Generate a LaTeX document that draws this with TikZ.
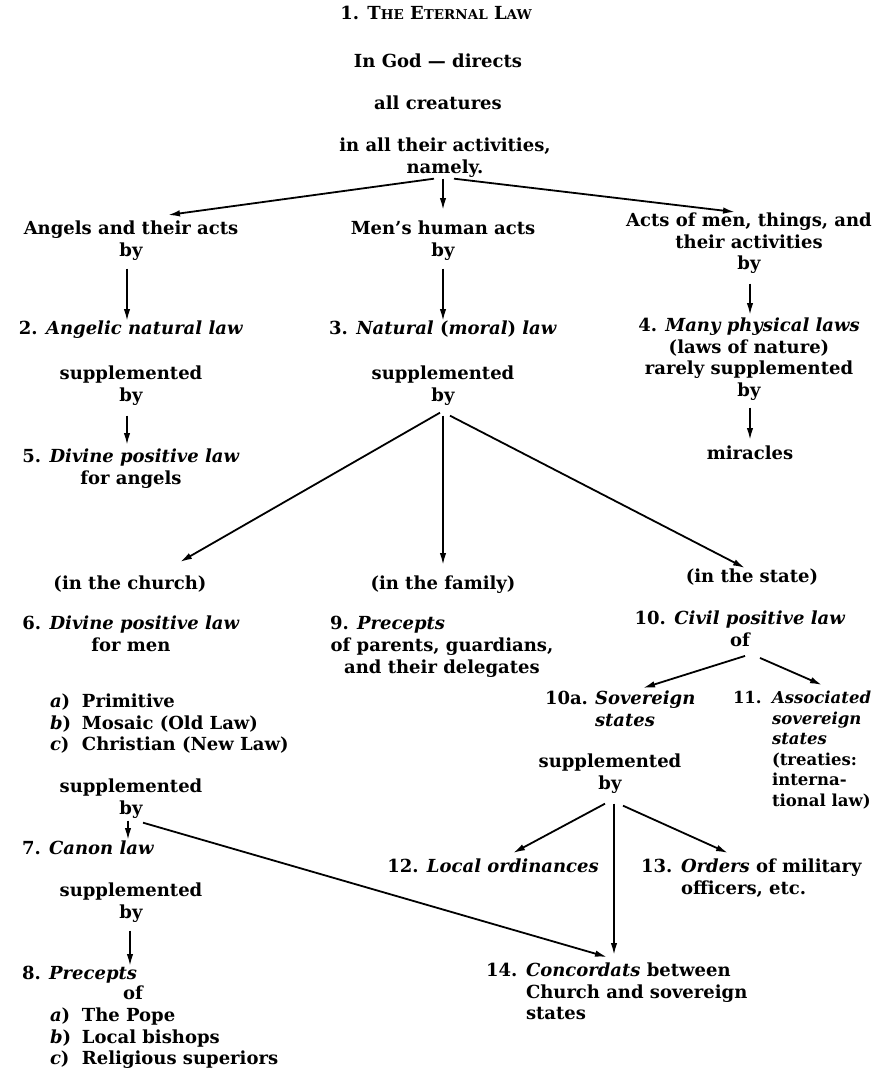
\documentclass[tikz,border=0pt]{standalone}
\usepackage{fontspec}
\setmainfont{DejaVu Serif}
\usetikzlibrary{arrows.meta}
\newcommand{\smc}[1]{{\fontsize{13.5}{13.5}\selectfont #1}}
\newcommand{\numb}[2]{\makebox[#1][l]{#2}}
\tikzset{
  lbl/.style={inner sep=0pt, outer sep=0pt, anchor=north, align=center,
    font=\fontsize{18}{21.5}\selectfont\bfseries},
  lbll/.style={lbl, anchor=north west, align=left},
  arr/.style={line width=1.8pt, -{Latex[length=12pt,width=6.5pt]}}
}
\begin{document}
\begin{tikzpicture}[x=1pt,y=-1pt]
\useasboundingbox (0,0) rectangle (879,1072);
% top
\node[lbl] (n1) at (436,6) {1. T\smc{HE} E\smc{TERNAL} L\smc{AW}};
\node[lbl] (god) at (438,54) {In God — directs};
\node[lbl] (creat) at (438,96) {all creatures};
\node[lbl] (act) at (445,138) {in all their activities,\\namely.};
% row 2
\node[lbl] (angels) at (131,221) {Angels and their acts\\by};
\node[lbl] (men) at (443,221) {Men’s human acts\\by};
\node[lbl] (acts) at (749,213) {Acts of men, things, and\\their activities\\by};
% row 3
\node[lbl] (l2) at (131,321) {2. \textit{Angelic natural law}};
\node[lbl] (l3) at (443,321) {3. \textit{Natural} (\textit{moral}) \textit{law}};
\node[lbl] (l4) at (749,318) {4. \textit{Many physical laws}\\(laws of nature)\\rarely supplemented\\by};
\node[lbl] (supA) at (131,366) {supplemented\\by};
\node[lbl] (supM) at (443,366) {supplemented\\by};
\node[lbl] (l5) at (131,449) {5. \textit{Divine positive law}\\for angels};
\node[lbl] (mir) at (750,446) {miracles};
% row 4
\node[lbl] (church) at (130,576) {(in the church)};
\node[lbl] (family) at (443,576) {(in the family)};
\node[lbl] (state) at (752,569) {(in the state)};
\node[lbl] (l6) at (131,616) {6. \textit{Divine positive law}\\for men};
\node[lbll] (l9a) at (330,616) {9. \textit{Precepts}};
\node[lbl] (l9b) at (442,638) {of parents, guardians,\\and their delegates};
\node[lbl] (l10) at (740,611) {10. \textit{Civil positive law}\\of};
\node[lbll] (list6) at (50,694) {\numb{32pt}{\textit{a})}Primitive\\\numb{32pt}{\textit{b})}Mosaic (Old Law)\\\numb{32pt}{\textit{c})}Christian (New Law)};
\node[lbll] (l10a) at (545,691) {\numb{50pt}{10a.}\textit{Sovereign}\\\hspace*{50pt}\textit{states}};
\node[lbll, font=\fontsize{16.5}{20.5}\selectfont\bfseries] (l11) at (733,691) {\numb{39pt}{11.}\textit{Associated}\\\hspace*{39pt}\textit{sovereign}\\\hspace*{39pt}\textit{states}\\\hspace*{39pt}(treaties:\\\hspace*{39pt}interna-\\\hspace*{39pt}tional law)};
\node[lbl] (supS) at (610,754) {supplemented\\by};
\node[lbl] (l12) at (493,859) {12. \textit{Local ordinances}};
\node[lbll] (l13) at (641,859) {\numb{40pt}{13.}\textit{Orders} of military\\\hspace*{40pt}officers, etc.};
\node[lbll] (l14) at (486,963) {\numb{40pt}{14.}\textit{Concordats} between\\\hspace*{40pt}Church and sovereign\\\hspace*{40pt}states};
% left lower
\node[lbl] (sup6) at (131,779) {supplemented\\by};
\node[lbll] (l7) at (22,841) {7. \textit{Canon law}};
\node[lbl] (sup7) at (131,883) {supplemented\\by};
\node[lbll] (l8) at (22,966) {8. \textit{Precepts}};
\node[lbl] (l8of) at (133,986) {of};
\node[lbll] (list8) at (50,1008) {\numb{32pt}{\textit{a})}The Pope\\\numb{32pt}{\textit{b})}Local bishops\\\numb{32pt}{\textit{c})}Religious superiors};
% arrows
\draw[arr] ([shift={(-11,1.5)}]act.south) -- ([shift={(37,-6)}]angels.north);
\draw[arr] ([shift={(-2,1.5)}]act.south) -- ([shift={(0,-11)}]men.north);
\draw[arr] ([shift={(9,1.5)}]act.south) -- ([shift={(-14,-1)}]acts.north);
\draw[arr] ([shift={(-4,8.5)}]angels.south) -- ([shift={(-4,0)}]l2.north);
\draw[arr] ([shift={(0,8.5)}]men.south) -- ([shift={(0,0)}]l3.north);
\draw[arr] ([shift={(1,10)}]acts.south) -- ([shift={(1,-3)}]l4.north);
\draw[arr] ([shift={(-4,10.5)}]supA.south) -- ([shift={(-4,-4)}]l5.north);
\draw[arr] ([shift={(1,7.5)}]l4.south) -- ([shift={(0,-6)}]mir.north);
\draw[arr] ([shift={(-3,7.5)}]supM.south) -- ([shift={(50,-14)}]church.north);
\draw[arr] ([shift={(0,10.5)}]supM.south) -- ([shift={(0,-11)}]family.north);
\draw[arr] ([shift={(7,10.5)}]supM.south) -- ([shift={(-7,-1)}]state.north);
\draw[arr] ([shift={(5,9.5)}]l10.south) -- ([shift={(98,-3)}]l10a.north west);
\draw[arr] ([shift={(20,11.5)}]l10.south) -- ([shift={(89,-6)}]l11.north west);
\draw[arr] ([shift={(-5,10.5)}]supS.south) -- ([shift={(20,-6)}]l12.north);
\draw[arr] ([shift={(4,10.5)}]supS.south) -- ([shift={(128,-8)}]l14.north west);
\draw[arr] ([shift={(13,12.5)}]supS.south) -- ([shift={(87,-6)}]l13.north west);
\draw[arr] ([shift={(-3,2.5)}]sup6.south) -- ([shift={(106,-1)}]l7.north west);
\draw[arr] ([shift={(12,4.5)}]sup6.south) -- ([shift={(121,-6)}]l14.north west);
\draw[arr] ([shift={(-1,8.5)}]sup7.south) -- ([shift={(108,0)}]l8.north west);
\end{tikzpicture}
\end{document}
